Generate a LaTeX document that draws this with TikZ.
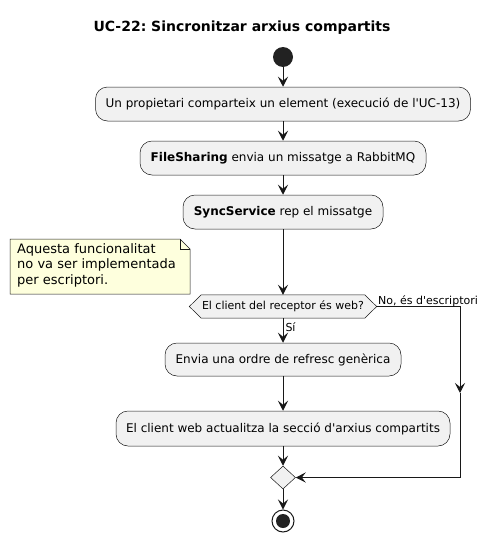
\documentclass[tikz,border=0pt]{standalone}
\usepackage{fontspec}
\setmainfont{DejaVu Sans}
\usetikzlibrary{arrows.meta,shapes.geometric}
\definecolor{linec}{HTML}{181818}
\definecolor{boxfill}{HTML}{F1F1F1}
\definecolor{notefill}{HTML}{FEFFDD}
\definecolor{startc}{HTML}{222222}
\tikzset{
  act/.style={draw=linec, line width=0.5pt, fill=boxfill, rounded corners=12pt,
    minimum height=34pt, inner sep=0pt, font=\fontsize{12}{14}\selectfont},
  flow/.style={draw=linec, line width=1pt, -{Stealth[length=10pt,width=10pt,inset=4pt]}},
  lbl/.style={font=\fontsize{11}{13}\selectfont, inner sep=0pt},
}
\frenchspacing
\begin{document}
\begin{tikzpicture}[x=1pt,y=-1pt]
\useasboundingbox (0,0) rectangle (486,541);
\node[font=\bfseries\fontsize{14}{16}\selectfont] (title) at (242,28) {UC-22: Sincronitzar arxius compartits};
\node[circle, fill=startc, minimum size=20pt, inner sep=0pt] (start) at (283,57) {};
\node[act, minimum width=375pt] (a1) at (283,104) {Un propietari comparteix un element (execució de l\textquotesingle UC-13)};
\node[act, minimum width=286pt] (a2) at (283,158) {\textbf{FileSharing} envia un missatge a RabbitMQ};
\node[act, minimum width=200pt] (a3) at (283,212) {\textbf{SyncService} rep el missatge};
% note
\draw[linec, line width=0.5pt, fill=notefill] (10,239) -- (180,239) -- (190,249) -- (190,294) -- (10,294) -- cycle;
\draw[linec, line width=0.5pt] (180,239) -- (180,249) -- (190,249);
\node[anchor=north west, align=left, inner sep=0pt, font=\fontsize{13}{15.5}\selectfont] (note) at (17,243) {Aquesta funcionalitat\\no va ser implementada\\per escriptori.};
% decision
\node[minimum width=187pt, minimum height=23pt, inner sep=0pt, font=\fontsize{11}{13}\selectfont] (dec) at (283,306.5) {El client del receptor és web?};
\draw[linec, line width=0.5pt, fill=boxfill] (dec.west) -- ([xshift=12pt]dec.north west) -- ([xshift=-12pt]dec.north east) -- (dec.east) -- ([xshift=-12pt]dec.south east) -- ([xshift=12pt]dec.south west) -- cycle;
\node[font=\fontsize{11}{13}\selectfont, inner sep=0pt] at (dec) {El client del receptor és web?};
\node[act, minimum width=236pt, minimum height=33pt] (a4) at (283,359.5) {Envia una ordre de refresc genèrica};
\node[act, minimum width=334pt, minimum height=35pt] (a5) at (283,428.5) {El client web actualitza la secció d\textquotesingle arxius compartits};
\node[diamond, draw=linec, line width=0.5pt, fill=boxfill, minimum width=25pt, minimum height=23pt, inner sep=0pt] (merge) at (283,477.5) {};
\node[circle, draw=linec, line width=1pt, minimum size=22pt, inner sep=0pt] (stop) at (283,521) {};
\node[circle, fill=startc, minimum size=14pt, inner sep=0pt] (stopin) at (283,521) {};
\coordinate (rtop) at (460,306.5);
\coordinate (rmid) at (460,393);
% connectors
\draw[flow] (start) -- (a1);
\draw[flow] (a1) -- (a2);
\draw[flow] (a2) -- (a3);
\draw[flow] (a3) -- (dec);
\draw[flow] (dec) -- node[lbl, anchor=west, pos=0.35, xshift=2pt] {Sí} (a4);
\draw[flow] (a4) -- (a5);
\draw[flow] (a5) -- (merge);
\draw[flow] (merge) -- (stop);
\draw[flow] (dec.east) -- (rtop) -- (rmid);
\draw[flow] (rmid) |- (merge.east);
\node[lbl, anchor=base west] (nolbl) at (378,304) {No, és d\textquotesingle escriptori};
\end{tikzpicture}
\end{document}
